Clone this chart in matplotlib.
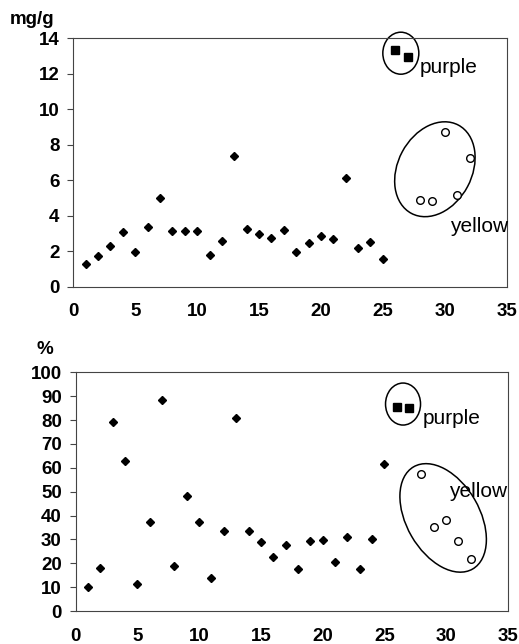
import matplotlib
matplotlib.use("Agg")
import matplotlib.pyplot as plt
from matplotlib.patches import Ellipse
import matplotlib.transforms as mtransforms

plt.rcParams['font.family'] = ['Liberation Sans', 'DejaVu Sans']

# ---- data ----
x_main = list(range(1, 26))
mg_main = [1.28, 1.73, 2.31, 3.06, 1.94, 3.36, 5.0, 3.16, 3.16, 3.16, 1.79, 2.56, 7.35,
           3.27, 2.95, 2.73, 3.21, 1.94, 2.44, 2.84, 2.67, 6.15, 2.18, 2.54, 1.58]
pct_main = [10.2, 18.0, 79.3, 63.0, 11.5, 37.4, 88.4, 19.0, 48.0, 37.2, 13.7, 33.7, 80.7,
            33.5, 29.1, 22.6, 27.7, 17.5, 29.2, 29.6, 20.7, 31.1, 17.5, 30.3, 61.5]
x_purple = [26, 27]
mg_purple = [13.35, 12.93]
pct_purple = [85.3, 84.9]
x_yellow = [28, 29, 30, 31, 32]
mg_yellow = [4.89, 4.85, 8.74, 5.15, 7.27]
pct_yellow = [57.3, 35.2, 38.0, 29.3, 21.8]

x_ticks = [0, 5, 10, 15, 20, 25, 30, 35]
mg_ticks = [0, 2, 4, 6, 8, 10, 12, 14]
pct_ticks = list(range(0, 101, 10))

W, H = 519, 644
fig = plt.figure(figsize=(W / 100, H / 100), dpi=100)

ax1 = fig.add_axes([73.3 / W, 1 - 286.7 / H, 433.4 / W, 248.4 / H])
ax2 = fig.add_axes([75.7 / W, 1 - 611 / H, 432 / W, 238.7 / H])


def ellipse_px(ax, cx, cy, w_px, h_px, angle):
    trans = fig.dpi_scale_trans + mtransforms.ScaledTranslation(cx, cy, ax.transData)
    e = Ellipse((0, 0), w_px / 100, h_px / 100, angle=angle, transform=trans,
                fill=False, edgecolor='black', linewidth=1.1, clip_on=False)
    ax.add_patch(e)


def style(ax, yticks, ymax):
    ax.set_xlim(0, 35)
    ax.set_ylim(0, ymax)
    ax.set_xticks(x_ticks)
    ax.set_yticks(yticks)
    for s in ax.spines.values():
        s.set_color('#444444')
        s.set_linewidth(0.8)
    ax.tick_params(axis='x', length=0, pad=12, labelsize=13.5)
    ax.tick_params(axis='y', length=4, width=0.8, direction='out', pad=6, labelsize=13.5,
                   color='#444444')
    for lab in ax.get_xticklabels() + ax.get_yticklabels():
        lab.set_fontweight('bold')


# top panel
ax1.plot(x_main, mg_main, linestyle='none', marker='D', ms=4.2, color='black')
ax1.plot(x_purple, mg_purple, linestyle='none', marker='s', ms=5.5, color='black')
ax1.plot(x_yellow, mg_yellow, linestyle='none', marker='o', ms=5.5, mfc='white',
         mec='black', mew=1.0)
ellipse_px(ax1, 26.45, 13.16, 36, 42, 0)
ellipse_px(ax1, 29.2, 6.62, 100, 74, 62)
ax1.text(28.0, 12.05, 'purple', fontsize=15, ha='left', va='baseline')
ax1.text(30.4, 3.1, 'yellow', fontsize=15, ha='left', va='baseline')
style(ax1, mg_ticks, 14)
fig.text(32 / W, 1 - 20 / H, 'mg/g', fontsize=13.5, fontweight='bold', ha='center', va='center')

# bottom panel
ax2.plot(x_main, pct_main, linestyle='none', marker='D', ms=4.2, color='black')
ax2.plot(x_purple, pct_purple, linestyle='none', marker='s', ms=5.5, color='black')
ax2.plot(x_yellow, pct_yellow, linestyle='none', marker='o', ms=5.5, mfc='white',
         mec='black', mew=1.0)
ellipse_px(ax2, 26.52, 86.7, 35, 42, 0)
ellipse_px(ax2, 29.77, 39.0, 118, 73, 120)
ax2.text(28.1, 78.2, 'purple', fontsize=15, ha='left', va='baseline')
ax2.text(30.25, 47.9, 'yellow', fontsize=15, ha='left', va='baseline')
style(ax2, pct_ticks, 100)
fig.text(45 / W, 1 - 350 / H, '%', fontsize=13.5, fontweight='bold', ha='center', va='center')

fig.savefig('out.png', dpi=100)
